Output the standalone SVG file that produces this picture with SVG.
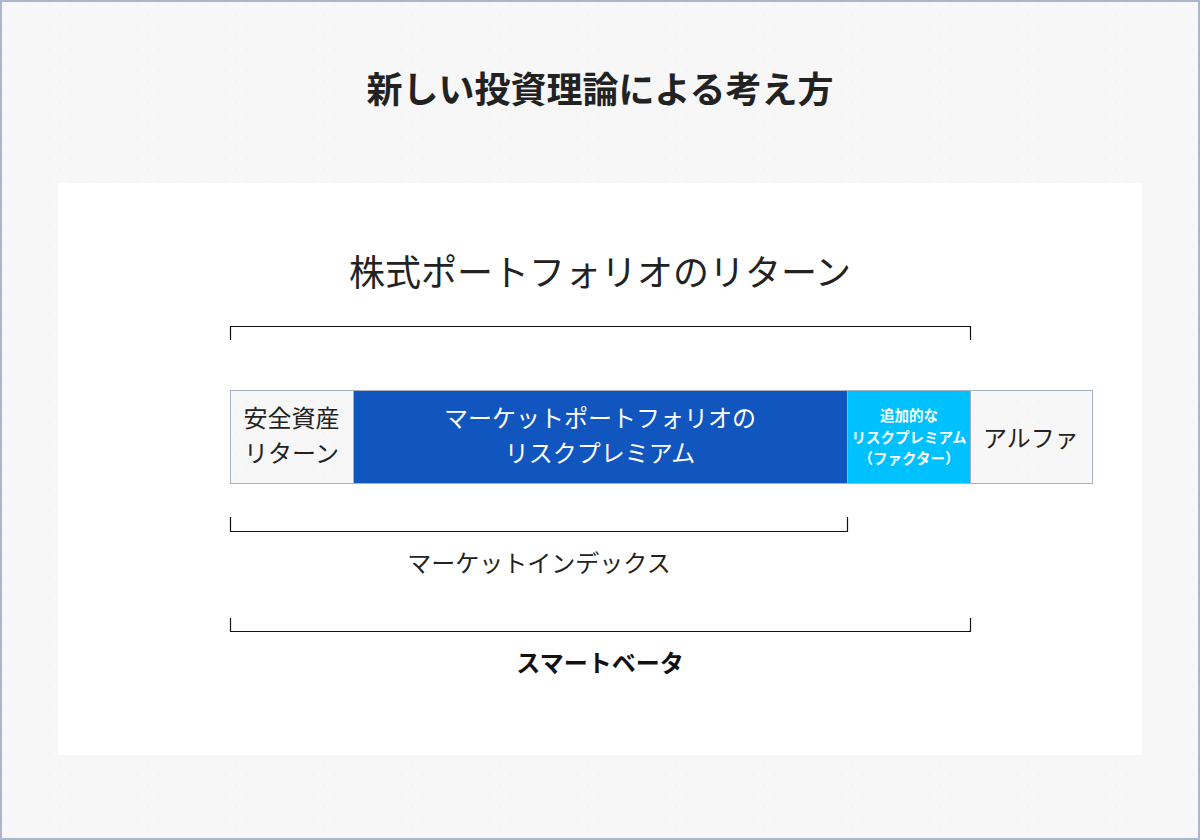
<svg xmlns="http://www.w3.org/2000/svg" width="1200" height="840" viewBox="0 0 1200 840">
<defs>
<pattern id="dots" width="22" height="22" patternUnits="userSpaceOnUse">
<circle cx="5" cy="5" r="0.6" fill="#e2e4e8"/>
<circle cx="16" cy="15" r="0.6" fill="#e2e4e8"/>
</pattern>
</defs>
<style>
.jp{font-family:"Noto Sans CJK JP","Noto Sans",sans-serif;}
.br{fill:none;stroke:#111;stroke-width:1.2;}
.box{stroke:#a9b0bd;stroke-width:1;}
</style>
<rect x="0" y="0" width="1200" height="840" fill="#f7f7f7"/>
<rect x="0" y="0" width="1200" height="840" fill="url(#dots)"/>
<rect x="1" y="1" width="1198" height="838" fill="none" stroke="#a9b6cc" stroke-width="2"/>
<text class="jp" x="600" y="103" font-size="36" font-weight="bold" fill="#222" text-anchor="middle">新しい投資理論による考え方</text>
<rect x="58" y="183" width="1084" height="572" fill="#ffffff"/>
<text class="jp" x="600" y="286" font-size="36" fill="#222" text-anchor="middle">株式ポートフォリオのリターン</text>
<g id="connectors">
<path class="br" d="M230.5 340 V326.5 H970.5 V340"/>
<path class="br" d="M230.5 517 V531.5 H847.5 V517"/>
<path class="br" d="M230.5 618 V631.5 H970.5 V618"/>
</g>
<g id="node-safe">
<rect class="box" x="230.5" y="390.5" width="123" height="93" fill="#f7f7f7"/>
<rect x="231" y="391" width="122" height="92" fill="url(#dots)"/>
<text class="jp" x="291.5" y="427" font-size="24" fill="#222" text-anchor="middle">安全資産</text>
<text class="jp" x="291.5" y="462" font-size="24" fill="#222" text-anchor="middle">リターン</text>
</g>
<g id="node-market">
<rect class="box" x="353.5" y="390.5" width="494" height="93" fill="#1155be"/>
<text class="jp" x="600" y="427" font-size="24" fill="#fff" text-anchor="middle">マーケットポートフォリオの</text>
<text class="jp" x="600" y="462" font-size="24" fill="#fff" text-anchor="middle">リスクプレミアム</text>
</g>
<g id="node-factor">
<rect class="box" x="847.5" y="390.5" width="123" height="93" fill="#00c1ff"/>
<text class="jp" x="909" y="421" font-size="14.5" font-weight="bold" fill="#fff" text-anchor="middle">追加的な</text>
<text class="jp" x="909" y="442.5" font-size="14.5" font-weight="bold" fill="#fff" text-anchor="middle">リスクプレミアム</text>
<text class="jp" x="909" y="464" font-size="14.5" font-weight="bold" fill="#fff" text-anchor="middle">（ファクター）</text>
</g>
<g id="node-alpha">
<rect class="box" x="970.5" y="390.5" width="122" height="93" fill="#f7f7f7"/>
<rect x="971" y="391" width="121" height="92" fill="url(#dots)"/>
<text class="jp" x="1031" y="447" font-size="24" fill="#222" text-anchor="middle">アルファ</text>
</g>
<text class="jp" x="539" y="572" font-size="24" fill="#222" text-anchor="middle">マーケットインデックス</text>
<text class="jp" x="600" y="672" font-size="24" font-weight="bold" fill="#111" text-anchor="middle">スマートベータ</text>
</svg>
